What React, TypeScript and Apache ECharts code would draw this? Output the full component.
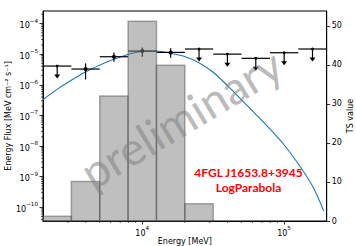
import React, { useEffect, useRef } from "react";
import * as echarts from "echarts";

// Energy bins (MeV) of the SED / TS histogram
const binEdges = [2000, 3170, 5024, 7962, 12619, 20000, 31698, 50238, 79621, 126191, 200000];
const binCenters = [2518, 3991, 6325, 10024, 15887, 25179, 39905, 63246, 100237, 158866];

// SED points (MeV cm^-2 s^-1)
const fluxValues = [4.08e-6, 3.26e-6, 8.22e-6, 1.26e-5, 1.14e-5, 1.47e-5, 1.0e-5, 7.3e-6, 1.11e-5, 1.47e-5];
const fluxLow = [4.08e-6, 1.49e-6, 5.65e-6, 8.2e-6, 7.6e-6, 1.47e-5, 1.0e-5, 7.3e-6, 1.11e-5, 1.47e-5];
const fluxHigh = [4.08e-6, 4.97e-6, 1.14e-5, 1.65e-5, 1.56e-5, 1.47e-5, 1.0e-5, 7.3e-6, 1.11e-5, 1.47e-5];
const isUpperLimit = [1, 0, 0, 0, 0, 1, 1, 1, 1, 1];

// TS value per bin
const tsValues = [1.2, 10.1, 32.0, 51.2, 39.9, 4.4, 0, 0, 0, 0];

// LogParabola model curve
const modelEnergy = [1995, 2512, 3162, 3981, 5012, 6310, 7943, 10000, 12589, 15849, 19953, 25119, 31623, 39811, 50119, 63096, 79433, 100000, 125893, 158489, 190546];
const modelFlux = [3.24e-7, 7.08e-7, 1.41e-6, 2.63e-6, 4.37e-6, 6.76e-6, 9.77e-6, 1.23e-5, 1.26e-5, 1.07e-5, 8.32e-6, 5.25e-6, 2.57e-6, 9.55e-7, 3.24e-7, 1.1e-7, 3.63e-8, 1.1e-8, 2.63e-9, 5.01e-10, 7.59e-11];

// Axis ranges
const xMin = 2000;
const xMax = 200000;
const fluxMin = 3.57e-11;
const fluxMax = 2.56e-4;
const tsMin = 0;
const tsMax = 53.8;

// Minor tick positions (log axes)
const xMinorTicks: number[] = [];
for (let k = 3; k <= 5; k++) {
  for (let m = 2; m <= 9; m++) {
    const v = m * Math.pow(10, k);
    if (v > xMin && v < xMax) xMinorTicks.push(v);
  }
}
const yMinorTicks: number[] = [];
for (let k = -11; k <= -4; k++) {
  for (let m = 2; m <= 9; m++) {
    const v = m * Math.pow(10, k);
    if (v > fluxMin && v < fluxMax) yMinorTicks.push(v);
  }
}

function powLabel(v: number): string {
  const e = Math.log10(v);
  const r = Math.round(e);
  if (Math.abs(e - r) > 1e-6) return "";
  return "{b|10}{s|" + String(r).replace("-", "\u2212") + "}";
}

const FONT = "DejaVu Sans";
const powRich = {
  b: { fontFamily: FONT, fontSize: 8, color: "#000", verticalAlign: "bottom", lineHeight: 12 },
  s: { fontFamily: FONT, fontSize: 5.6, color: "#000", verticalAlign: "top", lineHeight: 12 },
};

export default function App() {
  const ref = useRef<HTMLDivElement>(null);
  useEffect(() => {
    if (!ref.current) return;
    const chart = echarts.init(ref.current, null, { renderer: "svg" });
    const option: any = {
      animation: false,
      backgroundColor: "#fff",
      grid: {
        left: 43, top: 11, right: 29.3, bottom: 25,
        show: true, borderColor: "#000", borderWidth: 1, backgroundColor: "transparent",
        containLabel: false, outerBoundsMode: "none",
      },
      xAxis: {
        type: "log", logBase: 10, min: xMin, max: xMax,
        name: "Energy [MeV]", nameLocation: "middle", nameGap: 16.5, nameMoveOverlap: false,
        nameTextStyle: { fontFamily: FONT, fontSize: 8, color: "#000" },
        axisLine: { show: true, onZero: false, lineStyle: { color: "#000", width: 1 } },
        axisTick: { show: true, inside: false, length: 3.5, lineStyle: { color: "#000", width: 0.8 } },
        axisLabel: { margin: 4, formatter: (v: number) => powLabel(v), rich: powRich, showMinLabel: false, showMaxLabel: false },
        splitLine: { show: false },
      },
      yAxis: [
        {
          type: "log", logBase: 10, min: fluxMin, max: fluxMax, position: "left",
          name: "Energy Flux [MeV cm\u207B\u00B2 s\u207B\u00B9]", nameLocation: "middle", nameGap: 31, nameMoveOverlap: false,
          nameTextStyle: { fontFamily: FONT, fontSize: 8, color: "#000" },
          axisLine: { show: true, onZero: false, lineStyle: { color: "#000", width: 1 } },
          axisTick: { show: true, inside: false, length: 3.5, lineStyle: { color: "#000", width: 0.8 } },
          axisLabel: { margin: 5, formatter: (v: number) => powLabel(v), rich: powRich, showMinLabel: false, showMaxLabel: false },
          splitLine: { show: false },
        },
        {
          type: "value", min: tsMin, max: tsMax, interval: 10, position: "right",
          name: "TS value", nameLocation: "middle", nameGap: 20, nameMoveOverlap: false,
          nameTextStyle: { fontFamily: FONT, fontSize: 8, color: "#000" },
          axisLine: { show: true, onZero: false, lineStyle: { color: "#000", width: 1 } },
          axisTick: { show: true, inside: false, length: 3.5, lineStyle: { color: "#000", width: 0.8 } },
          axisLabel: { fontFamily: FONT, fontSize: 8, color: "#000", margin: 5, formatter: (v: number) => (Math.abs(v % 10) < 1e-6 ? String(v) : ""), showMaxLabel: false },
          splitLine: { show: false },
        },
      ],
      series: [
        {
          type: "custom", name: "xMinor", xAxisIndex: 0, yAxisIndex: 0, silent: true, z: 5,
          data: xMinorTicks.map((v) => [v, fluxMin]),
          encode: { x: 0, y: 1 },
          renderItem: (params: any, api: any) => {
            const p = api.coord([api.value(0), fluxMin]);
            return { type: "line", shape: { x1: p[0], y1: p[1], x2: p[0], y2: p[1] + 2 }, style: { stroke: "#000", lineWidth: 0.6 } };
          },
        },
        {
          type: "custom", name: "yMinor", xAxisIndex: 0, yAxisIndex: 0, silent: true, z: 5,
          data: yMinorTicks.map((v) => [xMin, v]),
          encode: { x: 0, y: 1 },
          renderItem: (params: any, api: any) => {
            const p = api.coord([xMin, api.value(1)]);
            return { type: "line", shape: { x1: p[0] - 2, y1: p[1], x2: p[0], y2: p[1] }, style: { stroke: "#000", lineWidth: 0.6 } };
          },
        },
        {
          type: "line", name: "LogParabola", xAxisIndex: 0, yAxisIndex: 0, z: 2,
          data: modelEnergy.map((e, i) => [e, modelFlux[i]]),
          showSymbol: false, smooth: 0.3,
          lineStyle: { color: "#1f77b4", width: 1.1 },
        },
        {
          type: "custom", name: "SED", xAxisIndex: 0, yAxisIndex: 0, z: 3,
          data: binCenters.map((c, i) => [c, fluxValues[i], binEdges[i], binEdges[i + 1], fluxLow[i], fluxHigh[i], isUpperLimit[i]]),
          encode: { x: [0, 2, 3], y: [1, 4, 5] },
          renderItem: (params: any, api: any) => {
            const ec = api.value(0), f = api.value(1), lo = api.value(2), hi = api.value(3);
            const fl = api.value(4), fh = api.value(5), ul = api.value(6);
            const pl = api.coord([lo, f]);
            const pr = api.coord([hi, f]);
            const pc = api.coord([ec, f]);
            const st = { stroke: "#000", lineWidth: 1.2 };
            const children: any[] = [
              { type: "line", shape: { x1: pl[0], y1: pl[1], x2: pr[0], y2: pr[1] }, style: st },
            ];
            if (ul) {
              children.push({ type: "line", shape: { x1: pc[0], y1: pc[1], x2: pc[0], y2: pc[1] + 9 }, style: st });
              children.push({ type: "polygon", shape: { points: [[pc[0] - 3, pc[1] + 8.5], [pc[0] + 3, pc[1] + 8.5], [pc[0], pc[1] + 12.5]] }, style: { fill: "#000" } });
              children.push({ type: "circle", shape: { cx: pc[0], cy: pc[1], r: 1.4 }, style: { fill: "#000" } });
            } else {
              const a = api.coord([ec, fl]);
              const b = api.coord([ec, fh]);
              children.push({ type: "line", shape: { x1: a[0], y1: a[1], x2: b[0], y2: b[1] }, style: st });
              children.push({ type: "circle", shape: { cx: pc[0], cy: pc[1], r: 2 }, style: { fill: "#000" } });
            }
            return { type: "group", children };
          },
        },
        {
          type: "custom", name: "TS", xAxisIndex: 0, yAxisIndex: 1, z: 4,
          data: tsValues.map((t, i) => [binEdges[i], binEdges[i + 1], t]),
          encode: { x: [0, 1], y: 2 },
          renderItem: (params: any, api: any) => {
            const t = api.value(2);
            if (!(t > 0)) return null;
            const p0 = api.coord([api.value(0), 0]);
            const p1 = api.coord([api.value(1), t]);
            return {
              type: "rect",
              shape: { x: p0[0], y: p1[1], width: p1[0] - p0[0], height: p0[1] - p1[1] },
              style: { fill: "rgba(128,128,128,0.5)", stroke: "rgba(70,70,70,0.45)", lineWidth: 1.5 },
            };
          },
        },
      ],
      graphic: [
        {
          type: "text", x: 181, y: 118, rotation: 0.54, z: 100, silent: true,
          style: { text: "preliminary", font: "normal 46px Lato", fill: "rgba(128,128,128,0.55)", align: "center", verticalAlign: "middle" },
        },
        {
          type: "text", x: 248.5, y: 172, z: 101, silent: true,
          style: { text: "4FGL J1653.8+3945", font: "bold 12px Lato", fill: "#ff0000", align: "center", verticalAlign: "middle" },
        },
        {
          type: "text", x: 248.5, y: 187.5, z: 101, silent: true,
          style: { text: "LogParabola", font: "bold 12px Lato", fill: "#ff0000", align: "center", verticalAlign: "middle" },
        },
      ],
    };
    chart.setOption(option);
    return () => chart.dispose();
  }, []);
  return <div ref={ref} style={{ position: "fixed", left: 0, top: 0, width: 356, height: 246 }} />;
}
